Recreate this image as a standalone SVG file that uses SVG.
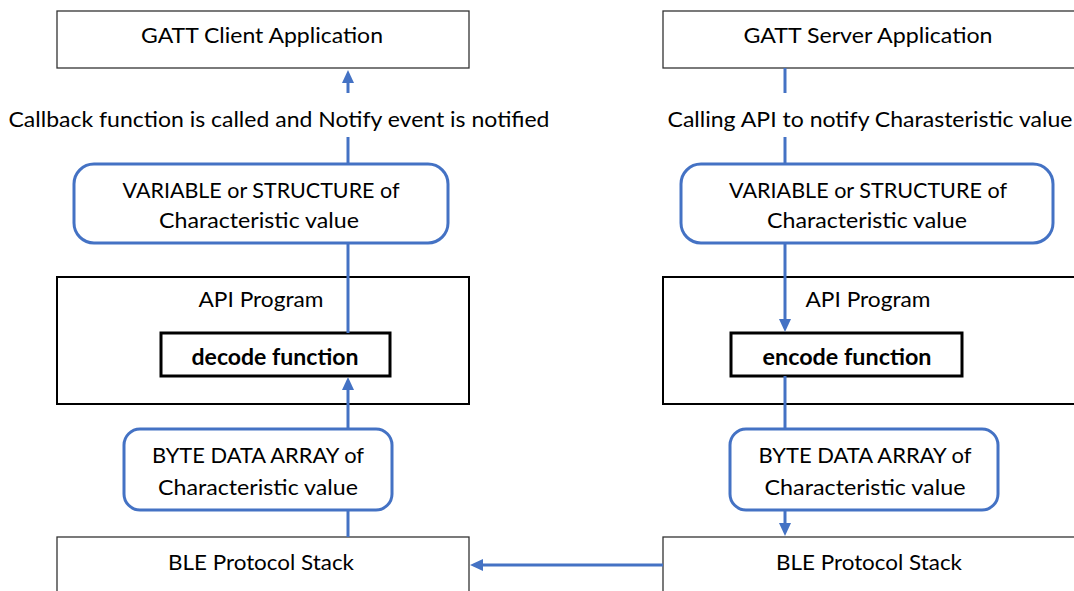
<svg xmlns="http://www.w3.org/2000/svg" width="1074" height="591" viewBox="0 0 1074 591">
<style>
  text { font-family: Lato, "Liberation Sans", sans-serif; font-size: 22px; fill: #000; text-anchor: middle; }
  .b { font-weight: bold; }
  .thin { fill: #fff; stroke: #333; stroke-width: 1.3; }
  .mid { fill: #fff; stroke: #000; stroke-width: 2; }
  .fn { fill: #fff; stroke: #000; stroke-width: 3; }
  .rr { fill: #fff; stroke: #4472C4; stroke-width: 3; }
  .c { fill: none; stroke: #4472C4; stroke-width: 3; }
</style>
<defs>
  <marker id="ah" markerUnits="userSpaceOnUse" markerWidth="14" markerHeight="12" refX="2" refY="6" orient="auto">
    <path d="M0,0 L13,6 L0,12 z" fill="#4472C4"/>
  </marker>
</defs>
<rect width="1074" height="591" fill="#fff"/>

<!-- left column -->
<g id="gatt-client">
  <rect class="thin" x="57" y="11" width="412" height="57"/>
  <text x="262" y="43" textLength="242" lengthAdjust="spacingAndGlyphs">GATT Client Application</text>
</g>
<g id="api-left">
  <rect class="mid" x="57" y="277" width="412" height="127"/>
  <text x="261" y="307" textLength="125" lengthAdjust="spacingAndGlyphs">API Program</text>
</g>
<g id="var-left">
  <rect class="rr" x="74" y="164" width="374" height="79" rx="20"/>
  <text x="261" y="198" textLength="277" lengthAdjust="spacingAndGlyphs">VARIABLE or STRUCTURE of</text>
  <text x="259" y="228" textLength="200" lengthAdjust="spacingAndGlyphs">Characteristic value</text>
</g>
<g id="decode">
  <rect class="fn" x="161" y="333" width="229" height="43"/>
  <text class="b" x="275" y="365" textLength="167" lengthAdjust="spacingAndGlyphs">decode function</text>
</g>
<g id="byte-left">
  <rect class="rr" x="124" y="429" width="268" height="81" rx="16"/>
  <text x="258" y="463" textLength="212" lengthAdjust="spacingAndGlyphs">BYTE DATA ARRAY of</text>
  <text x="258" y="495" textLength="200" lengthAdjust="spacingAndGlyphs">Characteristic value</text>
</g>
<g id="ble-left">
  <rect class="thin" x="57" y="537" width="412" height="60"/>
  <text x="261" y="570" textLength="186" lengthAdjust="spacingAndGlyphs">BLE Protocol Stack</text>
</g>
<g id="label-left">
  <text x="279" y="127" textLength="541" lengthAdjust="spacingAndGlyphs">Callback function is called and Notify event is notified</text>
</g>

<!-- right column -->
<g id="gatt-server">
  <rect class="thin" x="663" y="11" width="414" height="57"/>
  <text x="868" y="43" textLength="249" lengthAdjust="spacingAndGlyphs">GATT Server Application</text>
</g>
<g id="api-right">
  <rect class="mid" x="663" y="277" width="414" height="127"/>
  <text x="868" y="307" textLength="125" lengthAdjust="spacingAndGlyphs">API Program</text>
</g>
<g id="var-right">
  <rect class="rr" x="681" y="164" width="372" height="79" rx="20"/>
  <text x="868" y="198" textLength="278" lengthAdjust="spacingAndGlyphs">VARIABLE or STRUCTURE of</text>
  <text x="867" y="228" textLength="200" lengthAdjust="spacingAndGlyphs">Characteristic value</text>
</g>
<g id="encode">
  <rect class="fn" x="731" y="333" width="231" height="43"/>
  <text class="b" x="847" y="365" textLength="169" lengthAdjust="spacingAndGlyphs">encode function</text>
</g>
<g id="byte-right">
  <rect class="rr" x="730" y="429" width="268" height="81" rx="16"/>
  <text x="865" y="463" textLength="213" lengthAdjust="spacingAndGlyphs">BYTE DATA ARRAY of</text>
  <text x="865" y="495" textLength="201" lengthAdjust="spacingAndGlyphs">Characteristic value</text>
</g>
<g id="ble-right">
  <rect class="thin" x="663" y="537" width="414" height="60"/>
  <text x="869" y="570" textLength="186" lengthAdjust="spacingAndGlyphs">BLE Protocol Stack</text>
</g>
<g id="label-right">
  <text x="870" y="127" textLength="405" lengthAdjust="spacingAndGlyphs">Calling API to notify Charasteristic value</text>
</g>

<!-- connectors -->
<g id="connectors">
  <line class="c" x1="348" y1="163" x2="348" y2="137"/>
  <line class="c" x1="348" y1="93" x2="348" y2="81" marker-end="url(#ah)"/>
  <line class="c" x1="348" y1="243" x2="348" y2="333"/>
  <line class="c" x1="348" y1="429" x2="348" y2="388" marker-end="url(#ah)"/>
  <line class="c" x1="348" y1="510" x2="348" y2="537"/>

  <line class="c" x1="785" y1="68" x2="785" y2="93"/>
  <line class="c" x1="785" y1="137" x2="785" y2="163"/>
  <line class="c" x1="785" y1="243" x2="785" y2="321" marker-end="url(#ah)"/>
  <line class="c" x1="785" y1="376" x2="785" y2="429"/>
  <line class="c" x1="785" y1="510" x2="785" y2="525" marker-end="url(#ah)"/>

  <line class="c" x1="663" y1="565" x2="481" y2="565" marker-end="url(#ah)"/>
</g>
</svg>
